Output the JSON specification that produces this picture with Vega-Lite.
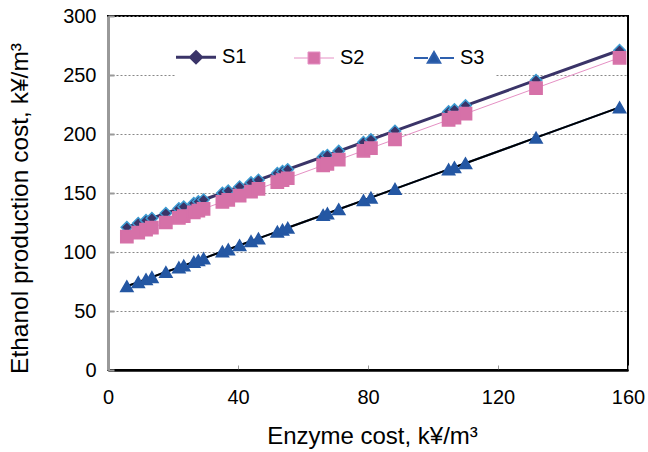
{
  "$schema": "https://vega.github.io/schema/vega-lite/v6.json",
  "width": 520,
  "height": 354,
  "autosize": {"type": "none"},
  "padding": {"left": 108, "top": 16, "right": 20, "bottom": 82},
  "background": "white",
  "config": {
    "font": "Liberation Sans",
    "view": {"stroke": "#000000", "strokeWidth": 2},
    "axis": {"labelFont": "Liberation Sans", "titleFont": "Liberation Sans", "labelColor": "#000000", "titleColor": "#000000", "titleFontWeight": "normal"}
  },
  "data": {"values": [
    {"x": 5.8, "S1": 120.9, "S2": 113.0, "S3": 71.0},
    {"x": 9.3, "S1": 124.4, "S2": 116.5, "S3": 74.5},
    {"x": 11.7, "S1": 126.8, "S2": 118.9, "S3": 76.9},
    {"x": 13.5, "S1": 128.6, "S2": 120.7, "S3": 78.7},
    {"x": 17.8, "S1": 132.8, "S2": 125.0, "S3": 83.0},
    {"x": 21.8, "S1": 136.8, "S2": 129.0, "S3": 87.0},
    {"x": 23.3, "S1": 138.3, "S2": 130.5, "S3": 88.5},
    {"x": 26.4, "S1": 141.3, "S2": 133.6, "S3": 91.6},
    {"x": 27.8, "S1": 142.7, "S2": 135.0, "S3": 93.0},
    {"x": 29.4, "S1": 144.3, "S2": 136.6, "S3": 94.6},
    {"x": 35.2, "S1": 150.0, "S2": 142.4, "S3": 100.4},
    {"x": 37.0, "S1": 151.8, "S2": 144.2, "S3": 102.2},
    {"x": 40.5, "S1": 155.3, "S2": 147.7, "S3": 105.7},
    {"x": 44.0, "S1": 158.8, "S2": 151.2, "S3": 109.2},
    {"x": 46.3, "S1": 161.0, "S2": 153.5, "S3": 111.5},
    {"x": 52.1, "S1": 166.8, "S2": 159.3, "S3": 117.3},
    {"x": 53.7, "S1": 168.4, "S2": 160.9, "S3": 118.9},
    {"x": 55.3, "S1": 170.0, "S2": 162.5, "S3": 120.5},
    {"x": 66.2, "S1": 180.7, "S2": 173.4, "S3": 131.4},
    {"x": 67.5, "S1": 182.0, "S2": 174.7, "S3": 132.7},
    {"x": 71.0, "S1": 185.5, "S2": 178.2, "S3": 136.2},
    {"x": 78.6, "S1": 193.0, "S2": 185.8, "S3": 143.8},
    {"x": 80.9, "S1": 195.3, "S2": 188.1, "S3": 146.1},
    {"x": 88.3, "S1": 202.6, "S2": 195.5, "S3": 153.5},
    {"x": 104.8, "S1": 219.0, "S2": 212.0, "S3": 170.0},
    {"x": 106.6, "S1": 220.7, "S2": 213.8, "S3": 171.8},
    {"x": 110.0, "S1": 224.1, "S2": 217.2, "S3": 175.2},
    {"x": 131.7, "S1": 245.6, "S2": 238.9, "S3": 196.9},
    {"x": 157.4, "S1": 271.0, "S2": 264.6, "S3": 222.6}
  ]},
  "transform": [{"fold": ["S1", "S2", "S3"], "as": ["series", "y"]}],
  "encoding": {
    "x": {"field": "x", "type": "quantitative",
      "scale": {"domain": [0, 160], "nice": false},
      "axis": {"title": "Enzyme cost, k¥/m³", "values": [0, 40, 80, 120, 160], "grid": false,
        "domainColor": "#000000", "domainWidth": 2.5, "tickColor": "#999999", "tickSize": -5, "tickWidth": 1,
        "labelFontSize": 20, "labelPadding": 22, "titleFontSize": 24, "titlePadding": 17, "labelFlush": false, "titleX": 264}},
    "y": {"field": "y", "type": "quantitative",
      "scale": {"domain": [0, 300], "nice": false},
      "axis": {"title": "Ethanol production cost, k¥/m³", "values": [0, 50, 100, 150, 200, 250, 300],
        "grid": true, "gridColor": "#888888", "gridDash": [2, 2], "gridWidth": 1,
        "domainColor": "#999999", "domainWidth": 3, "tickColor": "#999999", "tickSize": -6, "tickWidth": 2,
        "labelFontSize": 20, "labelPadding": 18, "titleFontSize": 24.5, "titlePadding": 30, "titleY": 192}}
  },
  "layer": [
    {
      "mark": {"type": "line", "strokeCap": "round"},
      "encoding": {
        "stroke": {"field": "series", "type": "nominal",
          "scale": {"domain": ["S1", "S2", "S3"], "range": ["#3A3468", "#E590C4", "#2E60AE"]},
          "legend": {
            "orient": "none", "legendX": 68, "legendY": 21, "direction": "horizontal",
            "title": null, "labelFont": "Liberation Sans", "labelFontSize": 20, "labelColor": "#000000",
            "symbolSize": 100, "labelOffset": 16, "columnPadding": 45,
            "fillColor": "white", "padding": 10,
            "encode": {"symbols": {"update": {
              "shape": {"signal": "datum.value === 'S1' ? 'M-4,0L-1.1,0M1.1,0L4,0M0,-1.1L1.1,0L0,1.1L-1.1,0Z' : datum.value === 'S2' ? 'M-4,0L-1.2,0M1.2,0L4,0M-1.2,-1.2L1.2,-1.2L1.2,1.2L-1.2,1.2Z' : 'M-4,0L-1.2,0M1.2,0L4,0M0,-1.2L1.25,0.95L-1.25,0.95Z'"},
              "fill": {"signal": "datum.value === 'S1' ? '#3A3468' : datum.value === 'S2' ? '#D671A8' : '#2457A3'"},
              "strokeWidth": {"signal": "datum.value === 'S1' ? 3 : datum.value === 'S2' ? 1 : 2"},
              "opacity": {"value": 1}
            }}}
          }},
        "strokeWidth": {"field": "series", "type": "nominal",
          "scale": {"type": "ordinal", "domain": ["S1", "S2", "S3"], "range": [3, 1, 2]}, "legend": null}
      }
    },
    {
      "transform": [{"filter": "datum.series === 'S3'"}],
      "mark": {"type": "line", "stroke": "#000000", "strokeWidth": 2},
      "encoding": {}
    },
    {
      "mark": {"type": "point", "filled": true, "opacity": 1, "strokeWidth": 1.5},
      "encoding": {
        "shape": {"field": "series", "type": "nominal",
          "scale": {"domain": ["S1", "S2", "S3"], "range": ["diamond", "square", "triangle-up"]}, "legend": null},
        "fill": {"field": "series", "type": "nominal",
          "scale": {"domain": ["S1", "S2", "S3"], "range": ["#3A3468", "#D671A8", "#2457A3"]}, "legend": null},
        "stroke": {"field": "series", "type": "nominal",
          "scale": {"domain": ["S1", "S2", "S3"], "range": ["#3D9AD1", "#D671A8", "#2457A3"]}, "legend": null},
        "size": {"field": "series", "type": "nominal",
          "scale": {"type": "ordinal", "domain": ["S1", "S2", "S3"], "range": [130, 150, 150]}, "legend": null}
      }
    }
  ],
  "resolve": {"scale": {"stroke": "independent"}}
}
